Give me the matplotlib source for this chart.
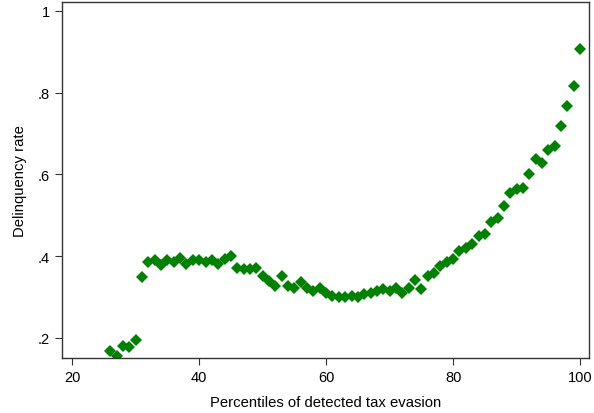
import numpy as np
import matplotlib
matplotlib.use("Agg")
import matplotlib.pyplot as plt

plt.rcParams['font.family'] = ['Liberation Sans', 'DejaVu Sans']

# percentiles of detected tax evasion (26..100)
pctile = np.arange(26, 101)
delinq = [
    0.168, 0.155, 0.180, 0.178, 0.196,                      # 26-30
    0.348, 0.385, 0.390, 0.378, 0.390, 0.385, 0.395, 0.380,  # 31-38
    0.390, 0.390, 0.385, 0.390, 0.382, 0.392, 0.400,         # 39-45
    0.370, 0.368, 0.368, 0.372, 0.352, 0.340, 0.328, 0.352,  # 46-53
    0.328, 0.323, 0.336, 0.323, 0.315, 0.323, 0.311, 0.303,  # 54-61
    0.299, 0.299, 0.303, 0.300, 0.307, 0.311, 0.315, 0.320,  # 62-69
    0.315, 0.323, 0.311, 0.323, 0.341, 0.320, 0.352, 0.360,  # 70-77
    0.376, 0.385, 0.394, 0.413, 0.421, 0.429, 0.450, 0.454,  # 78-85
    0.484, 0.494, 0.524, 0.554, 0.565, 0.567, 0.602, 0.637,  # 86-93
    0.628, 0.659, 0.669, 0.719, 0.768, 0.816, 0.907,         # 94-100
]

yticks = [0.2, 0.4, 0.6, 0.8, 1.0]
ytick_labels = [".2", ".4", ".6", ".8", "1"]
xticks = [20, 40, 60, 80, 100]

fig = plt.figure(figsize=(5.94, 4.14), dpi=100)
ax = fig.add_axes([0.1044, 0.1329, 0.8872, 0.8599])

ax.plot(pctile, delinq, linestyle="none", marker="D", markersize=6,
        color="#008000", markeredgewidth=0)

ax.set_xlim(18.4, 101.4)
ax.set_ylim(0.151, 1.022)
ax.set_xticks(xticks)
ax.set_yticks(yticks)
ax.set_yticklabels(ytick_labels)
ax.tick_params(direction="out", length=5, width=0.8, labelsize=10.5, color="#333333")

for s in ax.spines.values():
    s.set_linewidth(1.0)
    s.set_color("#333333")

ax.set_xlabel("Percentiles of detected tax evasion", fontsize=10.7)
ax.xaxis.set_label_coords(0.5, -0.103)
ax.set_ylabel("Delinquency rate", fontsize=10.7, labelpad=8)

fig.savefig("out.png", dpi=100)
